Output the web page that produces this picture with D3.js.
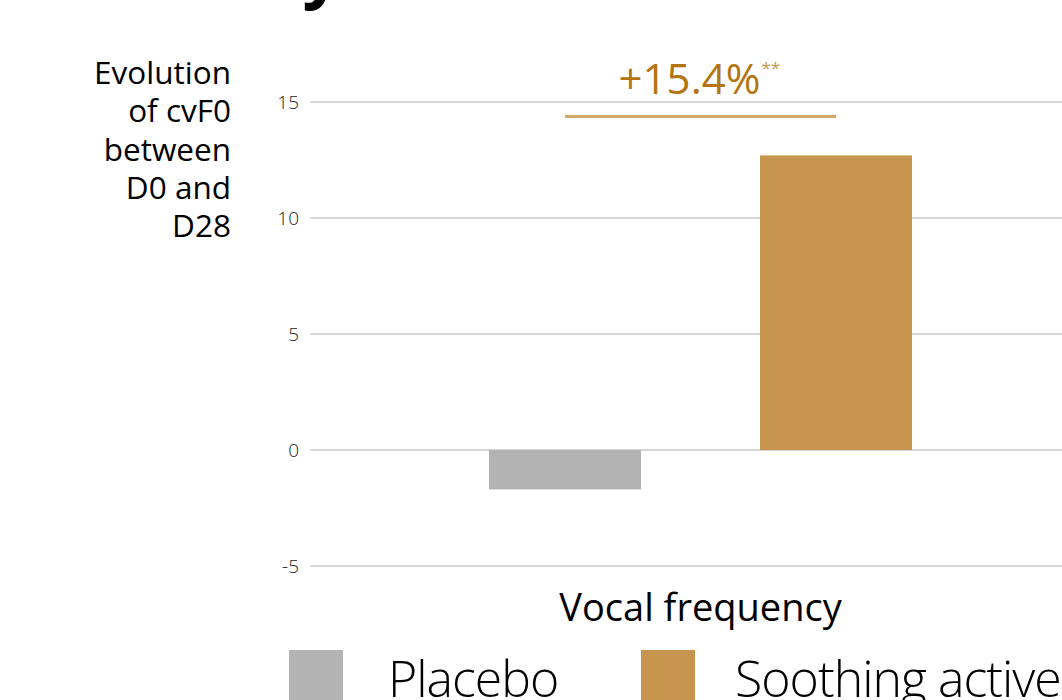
<!DOCTYPE html>
<html>
<head>
<meta charset="utf-8">
<script src="https://cdn.jsdelivr.net/npm/d3@7"></script>
<style>
  html, body { margin: 0; padding: 0; background: #fff; }
  svg { display: block; font-family: "Open Sans", "Noto Sans", sans-serif; }
</style>
</head>
<body>
<svg id="chart" width="1062" height="700"></svg>
<script>
const title = "Prosody";
const categories = ["Vocal frequency"];
const series = ["Placebo", "Soothing active"];
const placeboValues = [-1.7];
const activeValues = [12.7];
const yTicks = [-5, 0, 5, 10, 15];
const yLabelLines = ["Evolution", "of cvF0", "between", "D0 and", "D28"];
const annotationText = "+15.4%";
const annotationMark = "**";
const colors = ["#b3b3b3", "#c8954f"];

const svg = d3.select("#chart");

// Title (cut off at top)
svg.append("text")
  .attr("x", 68).attr("y", -5)
  .attr("font-size", 68).attr("font-weight", 700)
  .attr("fill", "#000")
  .text(title);

const y = d3.scaleLinear().domain([-5, 15]).range([566, 102]);
const x0 = d3.scaleBand().domain(categories).range([310, 1091]);
const x1 = d3.scaleBand().domain(series)
  .range([-211.5, 211.5]).paddingInner(0.439).paddingOuter(0);

// gridlines
svg.append("g").selectAll("line").data(yTicks).join("line")
  .attr("x1", 310).attr("x2", 1062)
  .attr("y1", d => y(d)).attr("y2", d => y(d))
  .attr("stroke", "#c9c9c9").attr("stroke-width", 1.5);

// tick labels
svg.append("g").selectAll("text").data(yTicks).join("text")
  .attr("x", 299).attr("y", d => y(d))
  .attr("dy", "0.36em")
  .attr("text-anchor", "end")
  .attr("font-size", 19).attr("font-weight", 300)
  .attr("fill", "#222")
  .text(d => d);

// y label
svg.append("g").selectAll("text").data(yLabelLines).join("text")
  .attr("x", 231).attr("y", (d, i) => 84 + i * 38.3)
  .attr("text-anchor", "end")
  .attr("font-size", 31.5).attr("font-weight", 400)
  .attr("fill", "#000")
  .text(d => d);

// bars
const rows = categories.map((c, i) => ({
  cat: c,
  vals: [
    {s: series[0], v: placeboValues[i]},
    {s: series[1], v: activeValues[i]}
  ]
}));
const cx = c => x0(c) + x0.bandwidth() / 2;
rows.forEach(r => {
  svg.append("g").selectAll("rect").data(r.vals).join("rect")
    .attr("x", d => cx(r.cat) + x1(d.s))
    .attr("width", x1.bandwidth())
    .attr("y", d => y(Math.max(0, d.v)))
    .attr("height", d => Math.abs(y(d.v) - y(0)))
    .attr("fill", (d, i) => colors[i]);

  // x category label
  svg.append("text")
    .attr("x", cx(r.cat)).attr("y", 621)
    .attr("text-anchor", "middle")
    .attr("font-size", 38).attr("font-weight", 400)
    .attr("fill", "#000")
    .text(r.cat);

  // annotation bracket line
  const a = cx(r.cat) + x1(series[0]) + x1.bandwidth() / 2;
  const b = cx(r.cat) + x1(series[1]) + x1.bandwidth() / 2;
  svg.append("line")
    .attr("x1", a).attr("x2", b).attr("y1", 116.5).attr("y2", 116.5)
    .attr("stroke", "#d6a868").attr("stroke-width", 3);
  const t = svg.append("text")
    .attr("x", (a + b) / 2 - 11).attr("y", 94)
    .attr("text-anchor", "middle")
    .attr("font-size", 42).attr("font-weight", 500)
    .attr("fill", "#b27512")
    .text(annotationText);
  const bb = t.node().getBBox();
  svg.append("text")
    .attr("x", bb.x + bb.width + 1).attr("y", 74)
    .attr("font-size", 17).attr("font-weight", 400)
    .attr("fill", "#c89a4a")
    .text(annotationMark);
});

// legend
const legX = [289, 641];
const legTextX = [388, 735];
series.forEach((s, i) => {
  svg.append("rect")
    .attr("x", legX[i]).attr("y", 650)
    .attr("width", 54).attr("height", 60)
    .attr("fill", colors[i]);
  svg.append("text")
    .attr("x", legTextX[i]).attr("y", 697)
    .attr("font-size", 50).attr("font-weight", 300)
    .attr("fill", "#000")
    .attr("letter-spacing", "-1")
    .text(s);
});
</script>
</body>
</html>
